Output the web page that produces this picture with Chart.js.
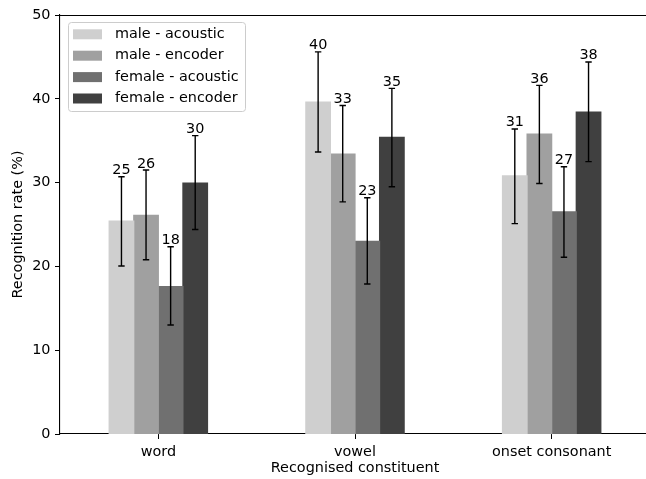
<!DOCTYPE html>
<html>
<head>
<meta charset="utf-8">
<script src="https://cdn.jsdelivr.net/npm/chart.js@4"></script>
<style>
html,body{margin:0;padding:0;overflow:hidden;background:#fff;}
#wrap{width:652px;height:479px;}
</style>
</head>
<body>
<div id="wrap"><canvas id="c" width="652" height="479"></canvas></div>
<script>
const categories = ["word", "vowel", "onset consonant"];
const seriesNames = ["male - acoustic", "male - encoder", "female - acoustic", "female - encoder"];
const seriesColors = ["#cfcfcf", "#a0a0a0", "#707070", "#404040"];

const maleAcoustic = [25.4, 39.6, 30.8];
const maleEncoder = [26.1, 33.4, 35.8];
const femaleAcoustic = [17.6, 23.0, 26.5];
const femaleEncoder = [29.95, 35.4, 38.4];

const maleAcousticLow = [20.05, 33.65, 25.1];
const maleAcousticHigh = [30.7, 45.6, 36.4];
const maleEncoderLow = [20.8, 27.7, 29.9];
const maleEncoderHigh = [31.5, 39.2, 41.6];
const femaleAcousticLow = [13.0, 17.9, 21.1];
const femaleAcousticHigh = [22.35, 28.2, 31.9];
const femaleEncoderLow = [24.4, 29.5, 32.5];
const femaleEncoderHigh = [35.6, 41.25, 44.4];

const maleAcousticLabels = ["25", "40", "31"];
const maleEncoderLabels = ["26", "33", "36"];
const femaleAcousticLabels = ["18", "23", "27"];
const femaleEncoderLabels = ["30", "35", "38"];

const yTicks = [0, 10, 20, 30, 40, 50];

const seriesValues = [maleAcoustic, maleEncoder, femaleAcoustic, femaleEncoder];
const seriesLow = [maleAcousticLow, maleEncoderLow, femaleAcousticLow, femaleEncoderLow];
const seriesHigh = [maleAcousticHigh, maleEncoderHigh, femaleAcousticHigh, femaleEncoderHigh];
const seriesLabels = [maleAcousticLabels, maleEncoderLabels, femaleAcousticLabels, femaleEncoderLabels];

const FONT = "'DejaVu Sans', sans-serif";
const FS = 14.4;

const errorPlugin = {
  id: 'errbars',
  afterDatasetsDraw(chart) {
    const ctx = chart.ctx;
    const ys = chart.scales.y;
    ctx.save();
    chart.data.datasets.forEach((ds, i) => {
      const meta = chart.getDatasetMeta(i);
      meta.data.forEach((bar, j) => {
        const x = bar.x;
        const yl = ys.getPixelForValue(seriesLow[i][j]);
        const yh = ys.getPixelForValue(seriesHigh[i][j]);
        ctx.strokeStyle = '#000';
        ctx.lineWidth = 1.4;
        ctx.beginPath();
        ctx.moveTo(x, yl); ctx.lineTo(x, yh);
        ctx.moveTo(x - 3.2, yl); ctx.lineTo(x + 3.2, yl);
        ctx.moveTo(x - 3.2, yh); ctx.lineTo(x + 3.2, yh);
        ctx.stroke();
        ctx.fillStyle = '#000';
        ctx.font = FS + "px " + FONT;
        ctx.textAlign = 'center';
        ctx.textBaseline = 'alphabetic';
        ctx.fillText(seriesLabels[i][j], x, yh - 2.5);
      });
    });
    // top spine
    const a = chart.chartArea;
    ctx.strokeStyle = '#000';
    ctx.lineWidth = 1.1;
    ctx.beginPath();
    ctx.moveTo(a.left, a.top + 0.5);
    ctx.lineTo(a.right + 5, a.top + 0.5);
    ctx.stroke();
    // legend
    const lx = 68, ly = 22, lw = 177, lh = 89, r = 3;
    ctx.fillStyle = 'rgba(255,255,255,0.8)';
    ctx.strokeStyle = '#cccccc';
    ctx.lineWidth = 1;
    ctx.beginPath();
    ctx.moveTo(lx + r + 0.5, ly + 0.5);
    ctx.arcTo(lx + lw + 0.5, ly + 0.5, lx + lw + 0.5, ly + lh + 0.5, r);
    ctx.arcTo(lx + lw + 0.5, ly + lh + 0.5, lx + 0.5, ly + lh + 0.5, r);
    ctx.arcTo(lx + 0.5, ly + lh + 0.5, lx + 0.5, ly + 0.5, r);
    ctx.arcTo(lx + 0.5, ly + 0.5, lx + lw + 0.5, ly + 0.5, r);
    ctx.closePath();
    ctx.fill();
    ctx.stroke();
    chart.data.datasets.forEach((ds, i) => {
      const cy = 34.3 + i * 21.4;
      ctx.fillStyle = ds.backgroundColor;
      ctx.fillRect(73, cy - 5, 29, 10);
      ctx.fillStyle = '#000';
      ctx.font = FS + "px " + FONT;
      ctx.textAlign = 'left';
      ctx.textBaseline = 'middle';
      ctx.fillText(ds.label, 115, cy);
    });
    ctx.restore();
  }
};

new Chart(document.getElementById('c'), {
  type: 'bar',
  data: {
    labels: categories,
    datasets: seriesNames.map((n, i) => ({
      label: n,
      data: seriesValues[i],
      backgroundColor: seriesColors[i],
      borderWidth: 0,
      inflateAmount: 0.6,
      categoryPercentage: 0.5,
      barPercentage: 1.0
    }))
  },
  options: {
    responsive: false,
    animation: false,
    devicePixelRatio: 1,
    layout: { padding: { top: 15, right: 2, left: 0, bottom: 0 } },
    plugins: { legend: { display: false }, tooltip: { enabled: false } },
    scales: {
      x: {
        offset: true,
        grid: { display: true, drawOnChartArea: false, drawTicks: true, tickLength: 5, color: '#000', offset: false },
        border: { display: true, color: '#000', width: 1.1 },
        ticks: { color: '#000', font: { family: FONT, size: FS }, padding: 4.3, maxRotation: 0 },
        title: { display: true, text: 'Recognised constituent', color: '#000', font: { family: FONT, size: FS }, padding: { top: 0, bottom: 2.2 } },
        afterFit(s) { s.height = 45; }
      },
      y: {
        min: 0, max: 50,
        afterBuildTicks(s) { s.ticks = yTicks.map(v => ({ value: v })); },
        grid: { display: true, drawOnChartArea: false, drawTicks: true, tickLength: 5, color: '#000' },
        border: { display: true, color: '#000', width: 1.1 },
        ticks: { color: '#000', font: { family: FONT, size: FS }, padding: 4.5 },
        title: { display: true, text: 'Recognition rate (%)', color: '#000', font: { family: FONT, size: FS }, padding: { top: 9.4, bottom: 0 } },
        afterFit(s) { s.width = 60; }
      }
    }
  },
  plugins: [errorPlugin]
});
</script>
</body>
</html>
